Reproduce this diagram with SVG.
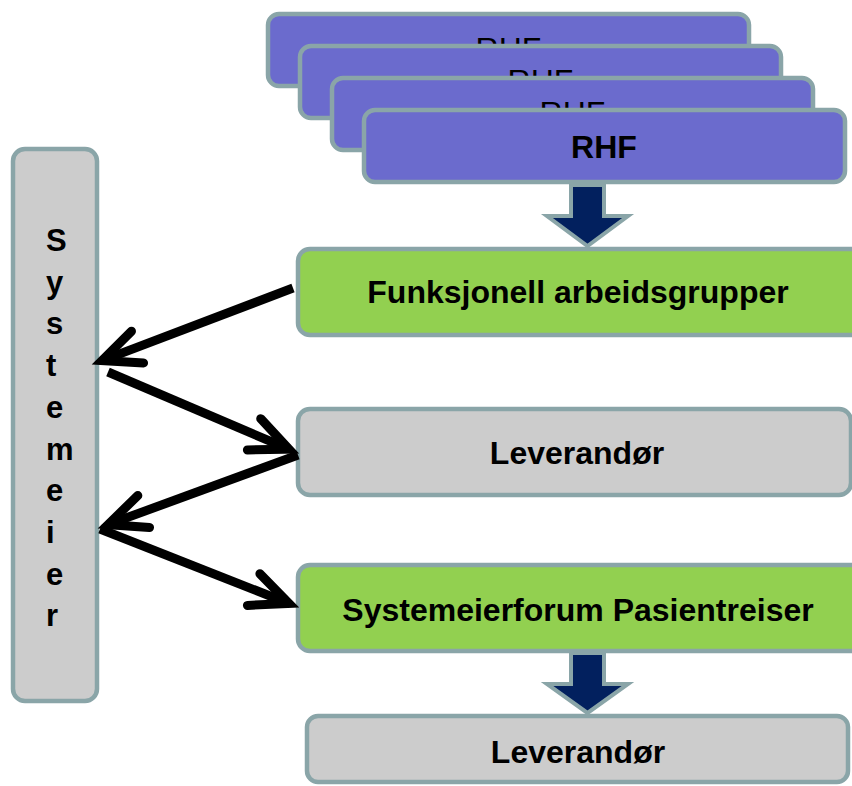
<svg xmlns="http://www.w3.org/2000/svg" width="852" height="786" viewBox="0 0 852 786">
<style>
  .box { stroke: #8aa5a8; stroke-width: 4.5; }
  .rhf { fill: #6b6bcd; }
  .green { fill: #92d050; }
  .grey { fill: #cccccc; }
  .lbl { font-family: "Liberation Sans", Arial, sans-serif; font-size: 32px; font-weight: bold; fill: #000; text-anchor: middle; }
  .back { font-weight: normal; }
  .vert { font-family: "Liberation Sans", Arial, sans-serif; font-size: 31px; font-weight: bold; fill: #000; }
  .blk { fill: #02205e; stroke: #8aa5a8; stroke-width: 4; stroke-linejoin: miter; }
  .conn { fill: none; stroke: #000; stroke-width: 9; marker-end: url(#open); }
</style>
<defs>
  <marker id="open" markerUnits="userSpaceOnUse" orient="auto" refX="0" refY="0" markerWidth="70" markerHeight="60" viewBox="-55 -30 70 60" overflow="visible">
    <path d="M -38 -17 L 0 0 L -38 17" fill="none" stroke="#000" stroke-width="9" stroke-linecap="round" stroke-linejoin="miter"/>
  </marker>
</defs>
<rect width="852" height="786" fill="#ffffff"/>

<g id="rhf1">
  <rect class="box rhf" x="268" y="14" width="481" height="72" rx="11"/>
  <text class="lbl back" x="508.5" y="60">RHF</text>
</g>
<g id="rhf2">
  <rect class="box rhf" x="300" y="46" width="481" height="72" rx="11"/>
  <text class="lbl back" x="540.5" y="92">RHF</text>
</g>
<g id="rhf3">
  <rect class="box rhf" x="332" y="78" width="481" height="72" rx="11"/>
  <text class="lbl back" x="572.5" y="124">RHF</text>
</g>
<g id="rhf4">
  <rect class="box rhf" x="364" y="110" width="481" height="72" rx="11"/>
  <text class="lbl" x="604" y="158">RHF</text>
</g>

<g id="systemeier">
  <rect class="box grey" x="13" y="149" width="84" height="552" rx="12"/>
  <text class="vert" x="46" y="251">S</text>
  <text class="vert" x="46" y="292.7">y</text>
  <text class="vert" x="46" y="334.4">s</text>
  <text class="vert" x="46" y="376.1">t</text>
  <text class="vert" x="46" y="417.8">e</text>
  <text class="vert" x="46" y="459.5">m</text>
  <text class="vert" x="46" y="501.2">e</text>
  <text class="vert" x="46" y="542.9">i</text>
  <text class="vert" x="46" y="584.6">e</text>
  <text class="vert" x="46" y="626.3">r</text>
</g>

<g id="funksjonell">
  <rect class="box green" x="298" y="249" width="570" height="86" rx="12"/>
  <text class="lbl" x="578" y="303">Funksjonell arbeidsgrupper</text>
</g>
<g id="leverandor1">
  <rect class="box grey" x="298" y="409" width="553" height="86" rx="12"/>
  <text class="lbl" x="577" y="464">Leverandør</text>
</g>
<g id="systemeierforum">
  <rect class="box green" x="298" y="565" width="570" height="86" rx="12"/>
  <text class="lbl" x="578" y="621">Systemeierforum Pasientreiser</text>
</g>
<g id="leverandor2">
  <rect class="box grey" x="307" y="716" width="541" height="66" rx="11"/>
  <text class="lbl" x="578" y="763">Leverandør</text>
</g>

<g id="connectors">
  <polygon class="blk" points="571,185 604,185 604,216 628,216 587.5,246 547,216 571,216"/>
  <polygon class="blk" points="571,653 604,653 604,684 628,684 587.5,713 547,684 571,684"/>
  <path class="conn" d="M 293 288 L 102 360.6"/>
  <path class="conn" d="M 108 372 L 289 449.2"/>
  <path class="conn" d="M 298 455 L 108 524.6"/>
  <path class="conn" d="M 100 529 L 289 603.5"/>
</g>
</svg>
